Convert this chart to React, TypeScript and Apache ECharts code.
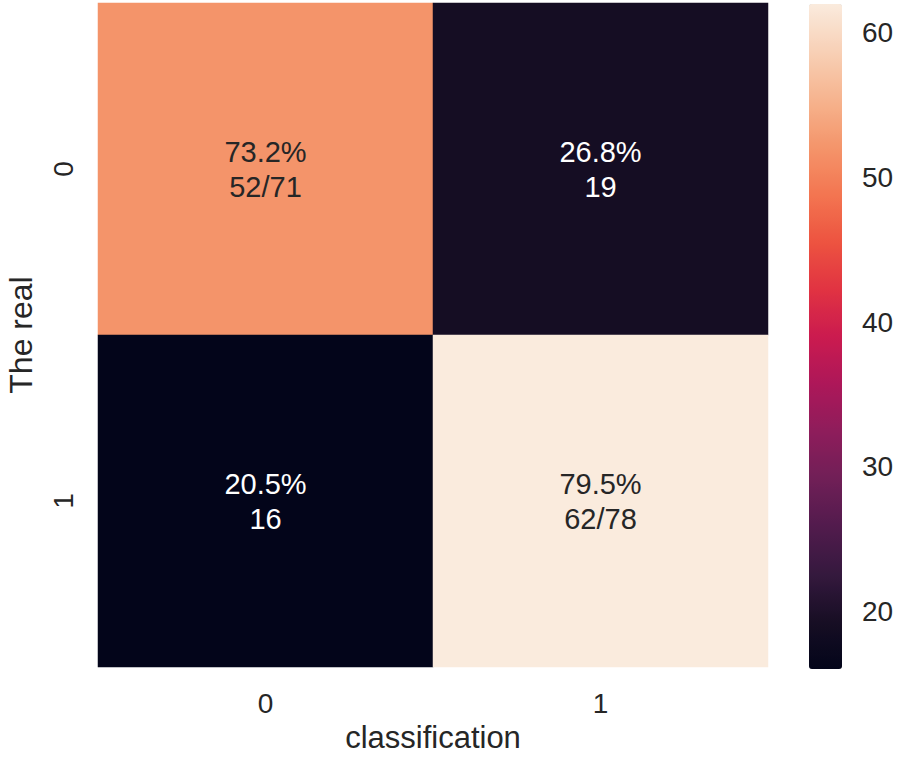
import { useEffect, useRef } from 'react';
import * as echarts from 'echarts';

// ── Data ──
const xCats = ['0', '1'];
const yCats = ['0', '1'];
// rows = the real class, columns = classification
const counts = [
  [52, 19],
  [16, 62],
];
const percents = [
  ['73.2%', '26.8%'],
  ['20.5%', '79.5%'],
];
const countLabels = [
  ['52/71', '19'],
  ['16', '62/78'],
];
const barTicks = [20, 30, 40, 50, 60];
const V_MIN = 16;
const V_MAX = 62;

// seaborn "rocket", evenly spaced stops
const ROCKET = [
  '#03051a', '#170e24', '#35193e', '#521b4d', '#701f57', '#8e1d5b', '#ad1759', '#cb1b4f',
  '#e13342', '#ed5440', '#f37651', '#f4956b', '#f6b48f', '#f8d0b6', '#faebdd',
];
const TEXT = '#262626';
const FONT = '"Liberation Sans", Arial, sans-serif';

export default function App() {
  const ref = useRef<HTMLDivElement>(null);

  useEffect(() => {
    if (!ref.current) return;
    const chart = echarts.init(ref.current, undefined, { renderer: 'svg' });

    const data: any[] = [];
    counts.forEach((row, r) => {
      row.forEach((v, c) => {
        const light = (v - V_MIN) / (V_MAX - V_MIN) > 0.5;
        data.push({
          value: [c, r, v],
          label: { color: light ? TEXT : '#ffffff' },
          text: `${percents[r][c]}\n${countLabels[r][c]}`,
        });
      });
    });

    chart.setOption({
      animation: false,
      textStyle: { fontFamily: FONT },
      grid: [
        { left: 98, top: 3, width: 670, height: 664, outerBoundsMode: 'none', containLabel: false },
        { left: 809, top: 4, width: 33, height: 665, outerBoundsMode: 'none', containLabel: false },
      ],
      xAxis: [
        {
          type: 'category',
          data: xCats,
          gridIndex: 0,
          axisLine: { show: false },
          axisTick: { show: false },
          splitLine: { show: false },
          axisLabel: { color: TEXT, fontSize: 28, margin: 22, fontFamily: FONT },
          name: 'classification',
          nameLocation: 'middle',
          nameGap: 55,
          nameTextStyle: { color: TEXT, fontSize: 31, lineHeight: 31, fontFamily: FONT },
        },
        { type: 'value', gridIndex: 1, show: false, min: 0, max: 1 },
      ],
      yAxis: [
        {
          type: 'category',
          data: yCats,
          inverse: true,
          gridIndex: 0,
          axisLine: { show: false },
          axisTick: { show: false },
          splitLine: { show: false },
          axisLabel: { color: TEXT, fontSize: 28, margin: 21, rotate: 90, fontFamily: FONT },
          name: 'The real',
          nameLocation: 'middle',
          nameGap: 61,
          nameTextStyle: { color: TEXT, fontSize: 32, fontFamily: FONT },
        },
        {
          type: 'value',
          gridIndex: 1,
          position: 'right',
          min: V_MIN,
          max: V_MAX,
          splitNumber: 5,
          axisLine: { show: false },
          axisTick: { show: false },
          splitLine: { show: false },
          axisLabel: {
            color: TEXT,
            fontSize: 28,
            margin: 20,
            fontFamily: FONT,
            formatter: (v: number) => (barTicks.includes(v) ? String(v) : ''),
          },
        },
      ],
      visualMap: {
        type: 'continuous',
        min: V_MIN,
        max: V_MAX,
        seriesIndex: 0,
        calculable: false,
        hoverLink: false,
        orient: 'vertical',
        left: 809,
        top: 4,
        itemWidth: 33,
        itemHeight: 665,
        padding: 0,
        inRange: { color: ROCKET },
      },
      series: [
        {
          type: 'heatmap',
          xAxisIndex: 0,
          yAxisIndex: 0,
          data,
          label: {
            show: true,
            fontSize: 29,
            lineHeight: 35,
            fontFamily: FONT,
            formatter: (p: any) => p.data.text,
          },
          emphasis: { disabled: true },
        },
      ],
    });

    return () => chart.dispose();
  }, []);

  return <div ref={ref} style={{ position: 'fixed', left: 0, top: 0, width: 900, height: 757, background: '#fff' }} />;
}
